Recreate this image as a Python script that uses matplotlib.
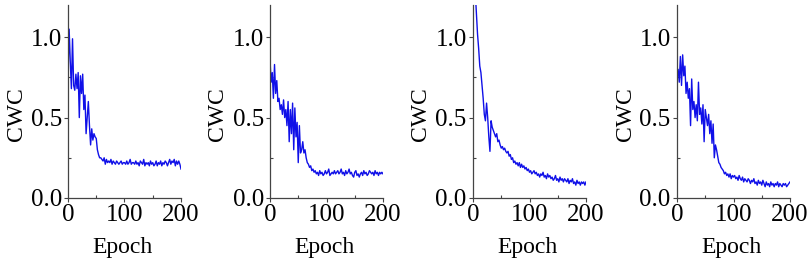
import numpy as np
import matplotlib
matplotlib.use("Agg")
import matplotlib.pyplot as plt
from matplotlib.ticker import MultipleLocator

plt.rcParams['font.family'] = ['Liberation Serif', 'DejaVu Serif']

epochs = list(range(0, 201, 2))

cwc_a = [0.75, 1.05, 0.85, 0.68, 0.99, 0.70, 0.67, 0.77, 0.68, 0.78,
         0.50, 0.76, 0.65, 0.77, 0.55, 0.64, 0.40, 0.50, 0.60, 0.45,
         0.33, 0.43, 0.36, 0.40, 0.38, 0.37, 0.30, 0.27, 0.25, 0.25,
         0.24, 0.23, 0.25, 0.21, 0.24, 0.22, 0.23, 0.22, 0.24, 0.21,
         0.23, 0.22, 0.21, 0.23, 0.22, 0.21, 0.22, 0.23, 0.21, 0.22,
         0.22, 0.21, 0.23, 0.21, 0.22, 0.24, 0.21, 0.22, 0.22, 0.21,
         0.23, 0.21, 0.22, 0.20, 0.23, 0.22, 0.21, 0.24, 0.20, 0.22,
         0.21, 0.22, 0.20, 0.23, 0.21, 0.22, 0.20, 0.21, 0.23, 0.20,
         0.22, 0.21, 0.23, 0.20, 0.22, 0.21, 0.23, 0.22, 0.20, 0.22,
         0.24, 0.21, 0.23, 0.22, 0.24, 0.20, 0.23, 0.21, 0.23, 0.21,
         0.18]

cwc_b = [0.86, 0.72, 0.78, 0.62, 0.83, 0.65, 0.73, 0.60, 0.62, 0.55,
         0.58, 0.52, 0.61, 0.50, 0.55, 0.45, 0.60, 0.35, 0.55, 0.40,
         0.59, 0.30, 0.56, 0.38, 0.47, 0.22, 0.45, 0.28, 0.30, 0.35,
         0.28, 0.30, 0.25, 0.22, 0.21, 0.19, 0.20, 0.17, 0.18, 0.16,
         0.17, 0.15, 0.16, 0.14, 0.17, 0.15, 0.16, 0.14, 0.15, 0.17,
         0.15, 0.16, 0.18, 0.14, 0.15, 0.16, 0.15, 0.17, 0.15, 0.16,
         0.17, 0.15, 0.16, 0.18, 0.15, 0.16, 0.14, 0.17, 0.15, 0.16,
         0.18, 0.15, 0.16, 0.14, 0.13, 0.16, 0.17, 0.14, 0.15, 0.13,
         0.15, 0.16, 0.14, 0.17, 0.15, 0.16, 0.14, 0.15, 0.17, 0.16,
         0.15, 0.16, 0.14, 0.17, 0.15, 0.16, 0.14, 0.16, 0.15, 0.16,
         0.15]

cwc_c = [1.55, 1.42, 1.28, 1.15, 1.02, 0.93, 0.82, 0.78, 0.70, 0.62,
         0.52, 0.48, 0.59, 0.50, 0.38, 0.29, 0.48, 0.44, 0.42, 0.40,
         0.38, 0.40, 0.35, 0.36, 0.33, 0.31, 0.32, 0.30, 0.31, 0.29,
         0.28, 0.29, 0.26, 0.27, 0.24, 0.25, 0.22, 0.23, 0.21, 0.22,
         0.20, 0.22, 0.19, 0.21, 0.19, 0.20, 0.18, 0.19, 0.17, 0.18,
         0.16, 0.17, 0.15, 0.16, 0.17, 0.15, 0.16, 0.14, 0.15, 0.13,
         0.15, 0.14, 0.16, 0.13, 0.14, 0.12, 0.15, 0.13, 0.14, 0.12,
         0.13, 0.11, 0.12, 0.14, 0.11, 0.12, 0.10, 0.13, 0.11, 0.12,
         0.10, 0.12, 0.11, 0.10, 0.12, 0.09, 0.11, 0.10, 0.12, 0.09,
         0.10, 0.08, 0.11, 0.09, 0.10, 0.08, 0.10, 0.09, 0.10, 0.08,
         0.10]

cwc_d = [0.75, 0.80, 0.72, 0.88, 0.70, 0.89, 0.76, 0.82, 0.65, 0.72,
         0.62, 0.68, 0.45, 0.74, 0.55, 0.60, 0.50, 0.58, 0.48, 0.72,
         0.52, 0.56, 0.46, 0.58, 0.35, 0.55, 0.50, 0.45, 0.52, 0.40,
         0.48, 0.34, 0.46, 0.25, 0.33, 0.30, 0.26, 0.22, 0.21, 0.19,
         0.18, 0.17, 0.15, 0.16, 0.14, 0.15, 0.13, 0.15, 0.12, 0.14,
         0.13, 0.14, 0.12, 0.13, 0.11, 0.14, 0.12, 0.11, 0.13, 0.10,
         0.12, 0.11, 0.10, 0.12, 0.11, 0.09, 0.11, 0.10, 0.12, 0.09,
         0.10, 0.08, 0.11, 0.09, 0.10, 0.08, 0.11, 0.09, 0.07, 0.10,
         0.08, 0.09, 0.07, 0.10, 0.08, 0.09, 0.07, 0.09, 0.08, 0.10,
         0.07, 0.09, 0.08, 0.07, 0.09, 0.08, 0.09, 0.07, 0.08, 0.09,
         0.10]

series = [cwc_a, cwc_b, cwc_c, cwc_d]
x_ticks = [0, 100, 200]
y_ticks = [0.0, 0.5, 1.0]
x_label = "Epoch"
y_label = "CWC"

W, H = 809, 263
fig = plt.figure(figsize=(W / 100, H / 100), dpi=100)
lefts = [68, 270, 473, 677]
ax_w = 113
top_px, bot_px = 5, 198
ax_h = bot_px - top_px

for left, vals in zip(lefts, series):
    ax = fig.add_axes([left / W, (H - bot_px) / H, ax_w / W, ax_h / H])
    ax.plot(epochs, vals, color='#1010e8', lw=1.0)
    ax.set_xlim(0, 200)
    ax.set_ylim(0, 1.2)
    ax.set_xticks(x_ticks)
    ax.set_yticks(y_ticks)
    ax.set_yticklabels([f"{v:.1f}" for v in y_ticks])
    ax.xaxis.set_minor_locator(MultipleLocator(50))
    ax.yaxis.set_minor_locator(MultipleLocator(0.25))
    ax.tick_params(which='major', direction='out', length=3, width=0.8,
                   labelsize=18, pad=1, color='#444444')
    ax.tick_params(axis='y', which='major', pad=1.5)
    ax.tick_params(which='minor', direction='in', length=2, width=0.8, color='#444444')
    for s in ['top', 'right']:
        ax.spines[s].set_visible(False)
    for s in ['left', 'bottom']:
        ax.spines[s].set_linewidth(0.9)
        ax.spines[s].set_color('#444444')
    xl = ax.set_xlabel(x_label, fontsize=17)
    xl.set_va('center')
    ax.xaxis.set_label_coords(54.5 / ax_w, -49 / ax_h)
    yl = ax.set_ylabel(y_label, fontsize=17)
    yl.set_va('center')
    ax.yaxis.set_label_coords(-52 / ax_w, 84 / ax_h)

fig.savefig("out.png", dpi=100)
